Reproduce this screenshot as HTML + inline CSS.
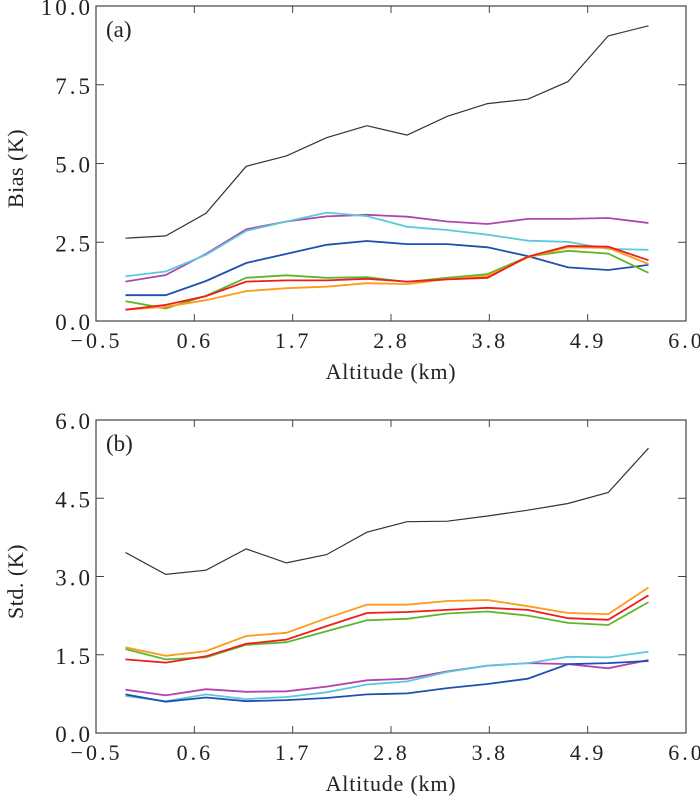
<!DOCTYPE html>
<html><head><meta charset="utf-8">
<style>
html,body{margin:0;padding:0;background:#fff;}
svg{display:block;font-family:"Liberation Serif",serif;}
</style></head>
<body>
<svg id="chart" width="700" height="804" viewBox="0 0 700 804"></svg>
<script>
const altitudes = [-0.17,0.28,0.73,1.18,1.63,2.08,2.53,2.98,3.43,3.88,4.33,4.78,5.23,5.68];
const xTicks = ["−0.5","0.6","1.7","2.8","3.8","4.9","6.0"];
const xTickVals = [-0.5,0.6,1.7,2.8,3.9,5.0,6.1];
const seriesNames = ["black","magenta","cyan","blue","green","orange","red"];
const seriesColors = ["#333333","#b044b0","#5cc8dc","#1f4fb0","#5cb82a","#ff9a1a","#ee1c1c"];
const biasBlack = [2.63,2.70,3.42,4.91,5.24,5.82,6.20,5.90,6.50,6.90,7.04,7.60,9.05,9.37];
const biasMagenta = [1.25,1.46,2.13,2.91,3.16,3.32,3.37,3.31,3.16,3.08,3.24,3.24,3.27,3.11];
const biasCyan = [1.42,1.57,2.10,2.86,3.16,3.44,3.33,2.99,2.89,2.74,2.55,2.51,2.29,2.26];
const biasBlue = [0.82,0.82,1.27,1.84,2.13,2.42,2.54,2.44,2.44,2.34,2.06,1.70,1.62,1.78];
const biasGreen = [0.63,0.40,0.80,1.37,1.45,1.37,1.39,1.24,1.37,1.49,2.04,2.23,2.14,1.53];
const biasOrange = [0.36,0.45,0.66,0.95,1.04,1.09,1.20,1.17,1.33,1.43,2.02,2.34,2.32,1.81];
const biasRed = [0.36,0.51,0.79,1.25,1.29,1.29,1.34,1.25,1.32,1.37,2.04,2.38,2.36,1.93];
const stdBlack = [3.46,3.04,3.12,3.53,3.26,3.42,3.85,4.05,4.06,4.16,4.27,4.40,4.61,5.46];
const stdMagenta = [0.83,0.72,0.84,0.79,0.80,0.89,1.01,1.04,1.18,1.29,1.34,1.32,1.24,1.40];
const stdCyan = [0.71,0.61,0.74,0.65,0.69,0.78,0.93,0.99,1.17,1.29,1.34,1.46,1.45,1.56];
const stdBlue = [0.74,0.60,0.68,0.61,0.63,0.67,0.74,0.76,0.86,0.94,1.04,1.32,1.34,1.38];
const stdGreen = [1.61,1.41,1.45,1.69,1.74,1.95,2.16,2.19,2.29,2.33,2.25,2.11,2.07,2.51];
const stdOrange = [1.64,1.48,1.57,1.86,1.92,2.20,2.46,2.46,2.53,2.55,2.43,2.30,2.28,2.79];
const stdRed = [1.41,1.35,1.47,1.71,1.79,2.05,2.30,2.32,2.36,2.40,2.36,2.20,2.17,2.64];
const biasTicks = ["0.0","2.5","5.0","7.5","10.0"];
const biasTickVals = [0,2.5,5,7.5,10];
const stdTicks = ["0.0","1.5","3.0","4.5","6.0"];
const stdTickVals = [0,1.5,3,4.5,6];

const NS="http://www.w3.org/2000/svg";
const svg=document.getElementById('chart');
function mk(tag,attrs,parent){const e=document.createElementNS(NS,tag);for(const k in attrs)e.setAttribute(k,attrs[k]);(parent||svg).appendChild(e);return e;}
const L=96,R=686;
function xs(v){return L+(v+0.5)/6.6*(R-L);}

function panel(id,top,bottom,ymax,tickVals,tickLabels,ylabel,letter,series){
  const g=mk('g',{});
  
  
  const ys=v=>bottom-v/ymax*(bottom-top);
  const frame=mk('rect',{x:L,y:top,width:R-L,height:bottom-top,fill:'none',stroke:'#444','stroke-width':1.2},g);
  
  
  tickVals.forEach((v,i)=>{
    const y=ys(v);
    if(i>0&&i<tickVals.length-1){
      mk('line',{x1:L,x2:L+8,y1:y,y2:y,stroke:'#444'},g);
      mk('line',{x1:R-8,x2:R,y1:y,y2:y,stroke:'#444'},g);
    }
    const t=mk('text',{x:L-3,y:y+9,'text-anchor':'end','font-size':23,'letter-spacing':3,fill:'#222'},g);
    t.textContent=tickLabels[i];
    
    
  });
  xTickVals.forEach((v,i)=>{
    const x=xs(v);
    if(i>0&&i<xTickVals.length-1){
      mk('line',{x1:x,x2:x,y1:bottom,y2:bottom-7,stroke:'#444'},g);
      mk('line',{x1:x,x2:x,y1:top,y2:top+7,stroke:'#444'},g);
    }
    const t=mk('text',{x:x+0.5,y:bottom+27,'text-anchor':'middle','font-size':22,'letter-spacing':3,fill:'#222'},g);
    t.textContent=xTicks[i];
    
    
  });
  const xt=mk('text',{x:(L+R)/2,y:bottom+58,'text-anchor':'middle','font-size':22,'letter-spacing':0.8,fill:'#222'},g);
  xt.textContent='Altitude (km)';
  
  
  const cy=(top+bottom)/2+5;
  const yt=mk('text',{x:23,y:cy,'text-anchor':'middle','font-size':22,'letter-spacing':0.5,fill:'#222',transform:`rotate(-90 23 ${cy})`},g);
  yt.textContent=ylabel;
  
  
  const lt=mk('text',{x:106,y:top+31,'font-size':23,fill:'#222'},g);
  lt.textContent=letter;
  
  
  series.forEach((vals,si)=>{
    const d=vals.map((v,i)=>(i?'L':'M')+xs(altitudes[i]).toFixed(1)+','+ys(v).toFixed(1)).join(' ');
    const p=mk('path',{d:d,fill:'none',stroke:seriesColors[si],'stroke-width':si===0?1.2:1.8},g);
    
    
  });
}
panel('panel-a-bias',6,321,10,biasTickVals,biasTicks,'Bias (K)','(a)',
  [biasBlack,biasMagenta,biasCyan,biasBlue,biasGreen,biasOrange,biasRed]);
panel('panel-b-std',420,733,6,stdTickVals,stdTicks,'Std. (K)','(b)',
  [stdBlack,stdMagenta,stdCyan,stdBlue,stdGreen,stdOrange,stdRed]);
</script>
</body></html>
